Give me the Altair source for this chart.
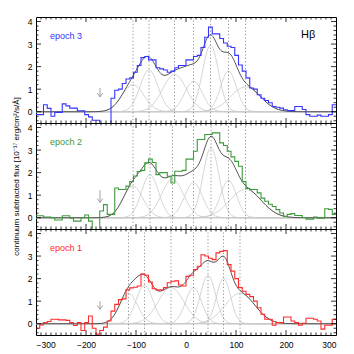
import altair as alt
import numpy as np
import pandas as pd

X_MIN, X_MAX = -300, 300
BIN_W = 7.5
PANEL_W, PANEL_H = 300, 106
Y_DOMAIN = [-0.5, 4.2]

# continuum-subtracted flux per velocity bin (bin width 7.5, starting at -300)
flux_epoch3 = [-0.13, -0.13, 0.31, 0.15, -0.2, -0.03, -0.03, 0.35, 0.26, 0.16,
               0.16, 0.04, 0.04, -0.13, -0.23, -0.38, -0.38, -0.6, -0.6, -0.6,
               0.6, 0.95, 1.0, 1.25, 1.45, 1.5, 1.75, 2.05, 2.4, 2.45,
               2.3, 2.3, 1.95, 1.9, 1.85, 1.75, 1.8, 1.95, 2.05, 2.05,
               2.3, 2.3, 2.45, 2.5, 2.85, 3.3, 3.75, 3.45, 3.45, 3.25,
               3.05, 2.9, 2.85, 2.5, 2.07, 1.8, 1.5, 1.05, 1.0, 0.75,
               0.6, 0.5, 0.4, 0.23, 0.2, 0.16, 0.09, 0.05, 0.05, 0.23,
               0.23, 0.1, -0.13, -0.2, -0.2, -0.15, -0.2, -0.2, -0.13, 0.31]
flux_epoch2 = [0.09, 0.09, 0.03, 0.03, 0.0, -0.1, -0.1, 0.09, 0.09, -0.02,
               -0.15, -0.15, 0.0, 0.12, -0.15, -0.6, -0.6, 0.3, 0.58, 0.15,
               0.15, 1.32, 1.25, 1.25, 1.4, 1.6, 1.85, 2.05, 2.1, 2.43,
               2.6, 2.45, 1.91, 2.0, 2.0, 1.84, 1.54, 2.06, 2.06, 2.1,
               2.6, 2.6, 2.95, 3.47, 3.47, 3.69, 3.69, 3.76, 3.76, 3.32,
               3.2, 2.95, 2.7, 2.5, 2.28, 1.6, 1.3, 1.25, 1.25, 1.1,
               0.87, 0.73, 0.6, 0.5, 0.36, 0.21, 0.06, 0.15, 0.18, 0.1,
               0.1, 0.01, -0.06, -0.06, 0.03, -0.02, -0.02, 0.4, 0.37, 0.15]
flux_epoch1 = [-0.2, -0.05, 0.05, 0.1, 0.2, 0.2, 0.17, 0.17, 0.15, 0.05,
               -0.08, 0.05, -0.3, 0.05, 0.34, -0.2, -0.46, -0.3, -0.15, 0.12,
               0.56, 0.86, 1.07, 1.1, 1.5, 1.59, 1.62, 1.67, 2.2, 2.15,
               1.85, 1.55, 1.5, 1.5, 1.6, 1.82, 1.88, 1.9, 1.72, 1.67,
               2.1, 2.15, 2.4, 2.55, 3.06, 3.0, 2.9, 2.84, 3.14, 3.21,
               3.24, 2.62, 2.33, 2.0, 1.6, 1.44, 1.3, 1.2, 1.0, 0.71,
               0.42, 0.2, 0.2, -0.07, 0.05, 0.05, 0.3, 0.3, 0.12, 0.05,
               -0.07, 0.02, 0.24, 0.24, 0.2, 0.12, -0.24, -0.07, -0.07, 0.2]

# Gaussian components: centre, peak height, sigma
centers_3 = [-106, -74, -23, 15, 49, 85, 119]
heights_3 = [1.2, 1.85, 1.65, 1.35, 2.95, 1.8, 1.1]
sigmas_3 = [22, 18, 24, 18, 16, 16, 30]

centers_2 = [-106, -72, -27, 15, 50, 85, 119]
heights_2 = [1.4, 1.9, 1.7, 1.55, 3.1, 1.65, 1.25]
sigmas_2 = [20, 17, 22, 18, 16, 16, 32]

centers_1 = [-115, -83, -30, 15, 44, 75, 108]
heights_1 = [1.35, 1.7, 1.6, 1.6, 2.15, 2.0, 1.35]
sigmas_1 = [18, 17, 26, 16, 15, 14, 30]

arrow_x = -172
arrow_top = [1.05, 1.22, 1.0]
arrow_tip = [0.66, 0.68, 0.64]

labels = ["epoch 3", "epoch 2", "epoch 1"]
colors = ["#3535ff", "#3c9a3c", "#ff2a2a"]
x_tick_labels = [-300, -200, -100, 0, 100, 200, 300]
y_tick_labels = [0, 1, 2, 3, 4]
y_title = "continuum subtracted flux [10\u207b\u00b9\u2077 erg/cm\u00b2/s/\u00c5]"
FONT = "Liberation Sans"


def panel(idx, flux, centers, heights, sigmas, show_x, show_title):
    xs = alt.Scale(domain=[X_MIN, X_MAX], nice=False, zero=False)
    ys = alt.Scale(domain=Y_DOMAIN, nice=False, zero=False)
    if show_x:
        xaxis = alt.Axis(values=x_tick_labels, ticks=False, domain=False, grid=False,
                         labelFontSize=8.5, labelPadding=5, labelFont=FONT, title=None,
                         labelColor="black")
    else:
        xaxis = None
    yaxis = alt.Axis(values=y_tick_labels, ticks=False, domain=False, grid=False,
                     labelFontSize=8.5, labelPadding=4, labelFont=FONT, labelColor="black",
                     title=y_title if show_title else None, titleFont=FONT,
                     titleFontSize=8, titleFontWeight="normal", titlePadding=7,
                     titleColor="black")

    def X(f):
        return alt.X(f, type="quantitative", scale=xs, axis=xaxis)

    def Y(f):
        return alt.Y(f, type="quantitative", scale=ys, axis=yaxis)

    grid = np.arange(X_MIN, X_MAX + 0.1, 2.0)
    comp_rows = []
    total = np.zeros_like(grid)
    for k, (c, h, s) in enumerate(zip(centers, heights, sigmas)):
        g = h * np.exp(-0.5 * ((grid - c) / s) ** 2)
        total += g
        for v, val in zip(grid, g):
            comp_rows.append({"v": v, "f": val, "k": k})
    comp_df = pd.DataFrame(comp_rows)
    fit_df = pd.DataFrame({"v": grid, "f": total})

    edges = X_MIN + BIN_W * np.arange(len(flux) + 1)
    hist_df = pd.DataFrame({"v": edges, "f": list(flux) + [flux[-1]]})

    comps = alt.Chart(comp_df).mark_line(color="#cacaca", strokeWidth=0.8, clip=True).encode(
        x=X("v"), y=Y("f"), detail="k:N")
    fit = alt.Chart(fit_df).mark_line(color="#555555", strokeWidth=1, clip=True).encode(
        x=X("v"), y=Y("f"))
    dots = alt.Chart(pd.DataFrame({"v": centers})).mark_rule(
        color="#666666", strokeWidth=0.7, strokeDash=[1.2, 2.2]).encode(
        x=X("v"), y=alt.value(0), y2=alt.value(PANEL_H))
    hist = alt.Chart(hist_df).mark_line(color=colors[idx], strokeWidth=1.1,
                                        interpolate="step-after", clip=True).encode(
        x=X("v"), y=Y("f"))
    arr_df = pd.DataFrame({"v": [arrow_x], "f": [arrow_top[idx]], "f2": [arrow_tip[idx]]})
    arrow = alt.Chart(arr_df).mark_rule(color="#8c8c8c", strokeWidth=0.8).encode(
        x=X("v"), y=Y("f"), y2="f2")
    head = alt.Chart(arr_df).mark_point(shape="M-1,-1.4L0,0L1,-1.4", filled=False,
                                        color="#8c8c8c", strokeWidth=0.8, size=30,
                                        opacity=1).encode(x=X("v"), y=Y("f2"))
    txt = alt.Chart(pd.DataFrame({"v": [-272], "f": [3.35], "t": [labels[idx]]})).mark_text(
        align="left", baseline="middle", fontSize=9, font=FONT, color=colors[idx]).encode(
        x=X("v"), y=Y("f"), text="t:N")
    layers = [comps, fit, dots, hist, arrow, head, txt]
    if idx == 0:
        hb = alt.Chart(pd.DataFrame({"v": [230], "f": [3.42], "t": ["H\u03b2"]})).mark_text(
            align="left", baseline="middle", fontSize=11, font=FONT, color="black").encode(
            x=X("v"), y=Y("f"), text="t:N")
        layers.append(hb)

    # inward ticks on all four sides
    xt = [v for v in range(X_MIN + 10, X_MAX, 10)]
    xt_df = pd.DataFrame({"v": xt, "L": [5 if v % 100 == 0 else 2.5 for v in xt]})
    yt = [round(-0.4 + 0.2 * i, 2) for i in range(23)]
    yt = [y for y in yt if Y_DOMAIN[0] < y < Y_DOMAIN[1]]
    yt_df = pd.DataFrame({"f": yt, "L": [5 if abs(y - round(y)) < 1e-6 else 2.5 for y in yt]})
    for maj in (True, False):
        sub = xt_df[(xt_df["L"] == 5) == maj]
        L = 5 if maj else 2.5
        layers.append(alt.Chart(sub).mark_rule(color="black", strokeWidth=0.8).encode(
            x=X("v"), y=alt.value(PANEL_H), y2=alt.value(PANEL_H - L)))
        layers.append(alt.Chart(sub).mark_rule(color="black", strokeWidth=0.8).encode(
            x=X("v"), y=alt.value(0), y2=alt.value(L)))
        suby = yt_df[(yt_df["L"] == 5) == maj]
        layers.append(alt.Chart(suby).mark_rule(color="black", strokeWidth=0.8).encode(
            y=Y("f"), x=alt.value(0), x2=alt.value(L)))
        layers.append(alt.Chart(suby).mark_rule(color="black", strokeWidth=0.8).encode(
            y=Y("f"), x=alt.value(PANEL_W), x2=alt.value(PANEL_W - L)))

    return alt.layer(*layers).properties(width=PANEL_W, height=PANEL_H)


p3 = panel(0, flux_epoch3, centers_3, heights_3, sigmas_3, False, False)
p2 = panel(1, flux_epoch2, centers_2, heights_2, sigmas_2, False, True)
p1 = panel(2, flux_epoch1, centers_1, heights_1, sigmas_1, True, False)

chart = alt.vconcat(p3, p2, p1, spacing=0, bounds="flush").properties(
    padding={"left": 3, "top": 8, "right": 5, "bottom": 5},
    background="white",
).configure_view(stroke="black", strokeWidth=1).configure_concat(spacing=0)

chart.save("out.html", embed_options={"renderer": "svg", "actions": False})
